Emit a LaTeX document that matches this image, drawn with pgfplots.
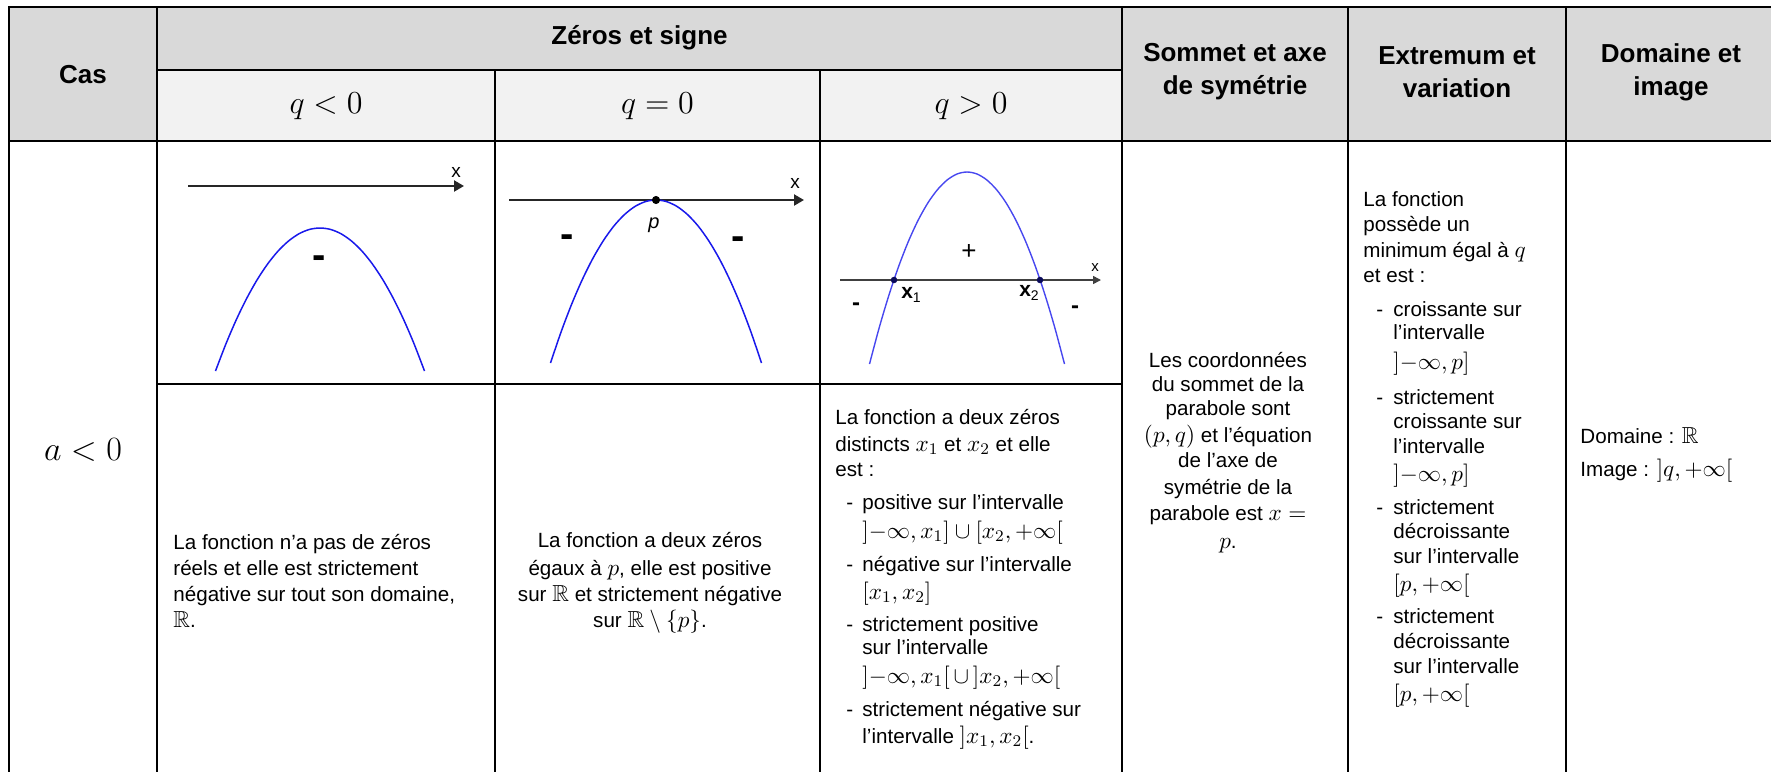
\documentclass[border=0pt]{standalone}
\usepackage{fix-cm}
\usepackage{amsmath,amssymb}
\usepackage{fontspec}
\setmainfont{Liberation Sans}
\usepackage{pgfplots}
\pgfplotsset{compat=1.18}
\usetikzlibrary{arrows.meta}
\definecolor{hdrgray}{RGB}{217,217,217}
\definecolor{subgray}{RGB}{242,242,242}
\definecolor{parblue}{RGB}{25,25,235}
\definecolor{navydot}{RGB}{10,10,90}
% math set a little larger than the text, as in the table
\newcommand\m[1]{{\fontsize{11.6}{12.5}\selectfont$#1$}}

\begin{document}
\begin{tikzpicture}[
  txt/.style={font=\fontsize{10.3}{12.5}\selectfont, inner sep=0pt},
  hdr/.style={font=\fontsize{13}{16.5}\selectfont\bfseries, align=center, inner sep=0pt},
  big/.style={font=\fontsize{16}{18}\selectfont, inner sep=0pt},
]
\begin{axis}[
  width=885.5pt, height=386pt, scale only axis,
  xmin=0, xmax=1771, ymin=0, ymax=772, y dir=reverse,
  hide axis, clip=false,
]
% header backgrounds
\addplot[fill=hdrgray, draw=none] coordinates {(9,7) (1771,7) (1771,141) (9,141)};
\addplot[fill=subgray, draw=none] coordinates {(157,70) (1122,70) (1122,141) (157,141)};

% table rules
\addplot[black, line width=1.3pt] coordinates {(8,7) (1771,7)};
\addplot[black, line width=1.3pt] coordinates {(8,141) (1771,141)};
\addplot[black, line width=1.1pt] coordinates {(157,70) (1122,70)};
\addplot[black, line width=1.3pt] coordinates {(157,384) (1122,384)};
\addplot[black, line width=1.1pt] coordinates {(9,7) (9,772)};
\addplot[black, line width=1.1pt] coordinates {(157,7) (157,772)};
\addplot[black, line width=1.1pt] coordinates {(495,70) (495,772)};
\addplot[black, line width=1.1pt] coordinates {(820,70) (820,772)};
\addplot[black, line width=1.1pt] coordinates {(1122,7) (1122,772)};
\addplot[black, line width=1.1pt] coordinates {(1348,7) (1348,772)};
\addplot[black, line width=1.1pt] coordinates {(1566,7) (1566,772)};

% header text
\node[hdr] at (83,75) {Cas};
\node[hdr] at (639.5,38) {Zéros et signe};
\node[big] at (326,106) {$q<0$};
\node[big] at (657.5,106) {$q=0$};
\node[big] at (971,106) {$q>0$};
\node[hdr] at (1235,72) {Sommet et axe\\de symétrie};
\node[hdr] at (1457,72) {Extremum et\\variation};
\node[hdr] at (1671,72) {Domaine et\\image};
\node[font=\fontsize{17}{19}\selectfont, inner sep=0pt] at (83,450) {$a<0$};

% graph 1 : q < 0
\addplot[black!85, line width=1.1pt, -{Triangle[length=5pt,width=5.5pt]}] coordinates {(188,186) (464,186)};
\addplot[parblue, line width=0.75pt, smooth] coordinates {
  (215.5,371) (225.95,343.8) (236.4,319.5) (246.85,298.1) (257.3,279.5)
  (267.75,263.8) (278.2,250.9) (288.65,240.9) (299.1,233.7) (309.55,229.4)
  (320,228) (330.45,229.4) (340.9,233.7) (351.35,240.9) (361.8,250.9)
  (372.25,263.8) (382.7,279.5) (393.15,298.1) (403.6,319.5) (414.05,343.8) (424.5,371)};
\node[font=\fontsize{9.5}{10}\selectfont, inner sep=0pt] at (456,172) {x};
\node[font=\fontsize{20}{20}\selectfont\bfseries, inner sep=0pt] at (319,262) {-};

% graph 2 : q = 0
\addplot[black!85, line width=1.1pt, -{Triangle[length=5pt,width=5.5pt]}] coordinates {(509,200) (804,200)};
\addplot[parblue, line width=0.75pt, smooth] coordinates {
  (550.5,363) (561.05,332.0) (571.6,304.3) (582.15,279.9) (592.7,258.7)
  (603.25,240.8) (613.8,226.1) (624.35,214.7) (634.9,206.5) (645.45,201.6)
  (656,200) (666.55,201.6) (677.1,206.5) (687.65,214.7) (698.2,226.1)
  (708.75,240.8) (719.3,258.7) (729.85,279.9) (740.4,304.3) (750.95,332.0) (761.5,363)};
\addplot[only marks, mark=*, mark size=1.8pt, black] coordinates {(656,200)};
\node[font=\fontsize{9.5}{10}\selectfont, inner sep=0pt] at (795,183) {x};
\node[font=\fontsize{10}{10}\selectfont\itshape, inner sep=0pt] at (654,225) {p};
\node[font=\fontsize{20}{20}\selectfont\bfseries, inner sep=0pt] at (567,241) {-};
\node[font=\fontsize{20}{20}\selectfont\bfseries, inner sep=0pt] at (738,243) {-};

% graph 3 : q > 0
\addplot[black!75, line width=0.8pt, -{Triangle[length=4pt,width=4pt]}] coordinates {(840,280) (1101,280)};
\addplot[parblue!80, line width=0.7pt, smooth] coordinates {
  (869.5,364) (879.25,327.5) (889,294.9) (898.75,266.1) (908.5,241.1)
  (918.25,220) (928,202.7) (937.75,189.3) (947.5,179.7) (957.25,173.9)
  (967,172) (976.75,173.9) (986.5,179.7) (996.25,189.3) (1006,202.7)
  (1015.75,220) (1025.5,241.1) (1035.25,266.1) (1045,294.9) (1054.75,327.5) (1064.5,364)};
\addplot[only marks, mark=*, mark size=1.4pt, navydot] coordinates {(894,280) (1040,280)};
\node[font=\fontsize{7.5}{8}\selectfont, inner sep=0pt] at (1095,268) {x};
\node[font=\fontsize{13}{13}\selectfont, inner sep=0pt] at (969,252) {+};
\node[font=\fontsize{10.5}{11}\selectfont, inner sep=0pt] at (911,295) {\textbf{x}{\fontsize{7}{7}\selectfont\raisebox{-2pt}{1}}};
\node[font=\fontsize{10.5}{11}\selectfont, inner sep=0pt] at (1029,293) {\textbf{x}{\fontsize{7}{7}\selectfont\raisebox{-2pt}{2}}};
\node[font=\fontsize{12}{12}\selectfont\bfseries, inner sep=0pt] at (856,307) {-};
\node[font=\fontsize{12}{12}\selectfont\bfseries, inner sep=0pt] at (1075,310) {-};

% text column q<0
\node[txt, anchor=base west] at (173,549) {La fonction n’a pas de zéros};
\node[txt, anchor=base west] at (173,575) {réels et elle est strictement};
\node[txt, anchor=base west] at (173,601) {négative sur tout son domaine,};
\node[txt, anchor=base west] at (173,627) {\m{\mathbb{R}}.};

% text column q=0
\node[txt, anchor=base] at (650,547) {La fonction a deux zéros};
\node[txt, anchor=base] at (650,575) {égaux à \m{p}, elle est positive};
\node[txt, anchor=base] at (650,601) {sur \m{\mathbb{R}} et strictement négative};
\node[txt, anchor=base] at (650,627) {sur \m{\mathbb{R}\setminus\{p\}}.};

% text column q>0
\node[txt, anchor=base west] at (835,424) {La fonction a deux zéros};
\node[txt, anchor=base west] at (835,451) {distincts \m{x_1} et \m{x_2} et elle};
\node[txt, anchor=base west] at (835,476) {est :};
\node[txt, anchor=base west] at (846,509) {-};
\node[txt, anchor=base west] at (862,509) {positive sur l’intervalle};
\node[txt, anchor=base west] at (862,538) {\m{]{-\infty},x_1]\cup[x_2,{+\infty}[}};
\node[txt, anchor=base west] at (846,571) {-};
\node[txt, anchor=base west] at (862,571) {négative sur l’intervalle};
\node[txt, anchor=base west] at (862,599) {\m{[x_1,x_2]}};
\node[txt, anchor=base west] at (846,631) {-};
\node[txt, anchor=base west] at (862,631) {strictement positive};
\node[txt, anchor=base west] at (862,654) {sur l’intervalle};
\node[txt, anchor=base west] at (862,683) {\m{]{-\infty},x_1[\,\cup\,]x_2,{+\infty}[}};
\node[txt, anchor=base west] at (846,716) {-};
\node[txt, anchor=base west] at (862,716) {strictement négative sur};
\node[txt, anchor=base west] at (862,743) {l’intervalle \m{]x_1,x_2[}.};

% text column sommet
\node[txt, anchor=base] at (1228,367) {Les coordonnées};
\node[txt, anchor=base] at (1228,391) {du sommet de la};
\node[txt, anchor=base] at (1228,415) {parabole sont};
\node[txt, anchor=base] at (1228,442) {\m{(p,q)} et l’équation};
\node[txt, anchor=base] at (1228,467) {de l’axe de};
\node[txt, anchor=base] at (1228,494) {symétrie de la};
\node[txt, anchor=base] at (1228,520) {parabole est \m{x=}};
\node[txt, anchor=base] at (1228,548) {\m{p}.};

% text column extremum
\node[txt, anchor=base west] at (1363,206) {La fonction};
\node[txt, anchor=base west] at (1363,231) {possède un};
\node[txt, anchor=base west] at (1363,257) {minimum égal à \m{q}};
\node[txt, anchor=base west] at (1363,282) {et est :};
\node[txt, anchor=base west] at (1376,316) {-};
\node[txt, anchor=base west] at (1393,316) {croissante sur};
\node[txt, anchor=base west] at (1393,339) {l’intervalle};
\node[txt, anchor=base west] at (1393,369) {\m{]{-\infty},p]}};
\node[txt, anchor=base west] at (1376,404) {-};
\node[txt, anchor=base west] at (1393,404) {strictement};
\node[txt, anchor=base west] at (1393,428) {croissante sur};
\node[txt, anchor=base west] at (1393,453) {l’intervalle};
\node[txt, anchor=base west] at (1393,481) {\m{]{-\infty},p]}};
\node[txt, anchor=base west] at (1376,514) {-};
\node[txt, anchor=base west] at (1393,514) {strictement};
\node[txt, anchor=base west] at (1393,538) {décroissante};
\node[txt, anchor=base west] at (1393,563) {sur l’intervalle};
\node[txt, anchor=base west] at (1393,591) {\m{[p,{+\infty}[}};
\node[txt, anchor=base west] at (1376,623) {-};
\node[txt, anchor=base west] at (1393,623) {strictement};
\node[txt, anchor=base west] at (1393,648) {décroissante};
\node[txt, anchor=base west] at (1393,673) {sur l’intervalle};
\node[txt, anchor=base west] at (1393,701) {\m{[p,{+\infty}[}};

% text column domaine
\node[txt, anchor=base west] at (1580,443) {Domaine : \m{\mathbb{R}}};
\node[txt, anchor=base west] at (1580,476) {Image : \m{]q,{+\infty}[}};
\end{axis}
\pgfresetboundingbox
\path (current axis.south west) rectangle (current axis.north east);
\end{tikzpicture}
\end{document}
